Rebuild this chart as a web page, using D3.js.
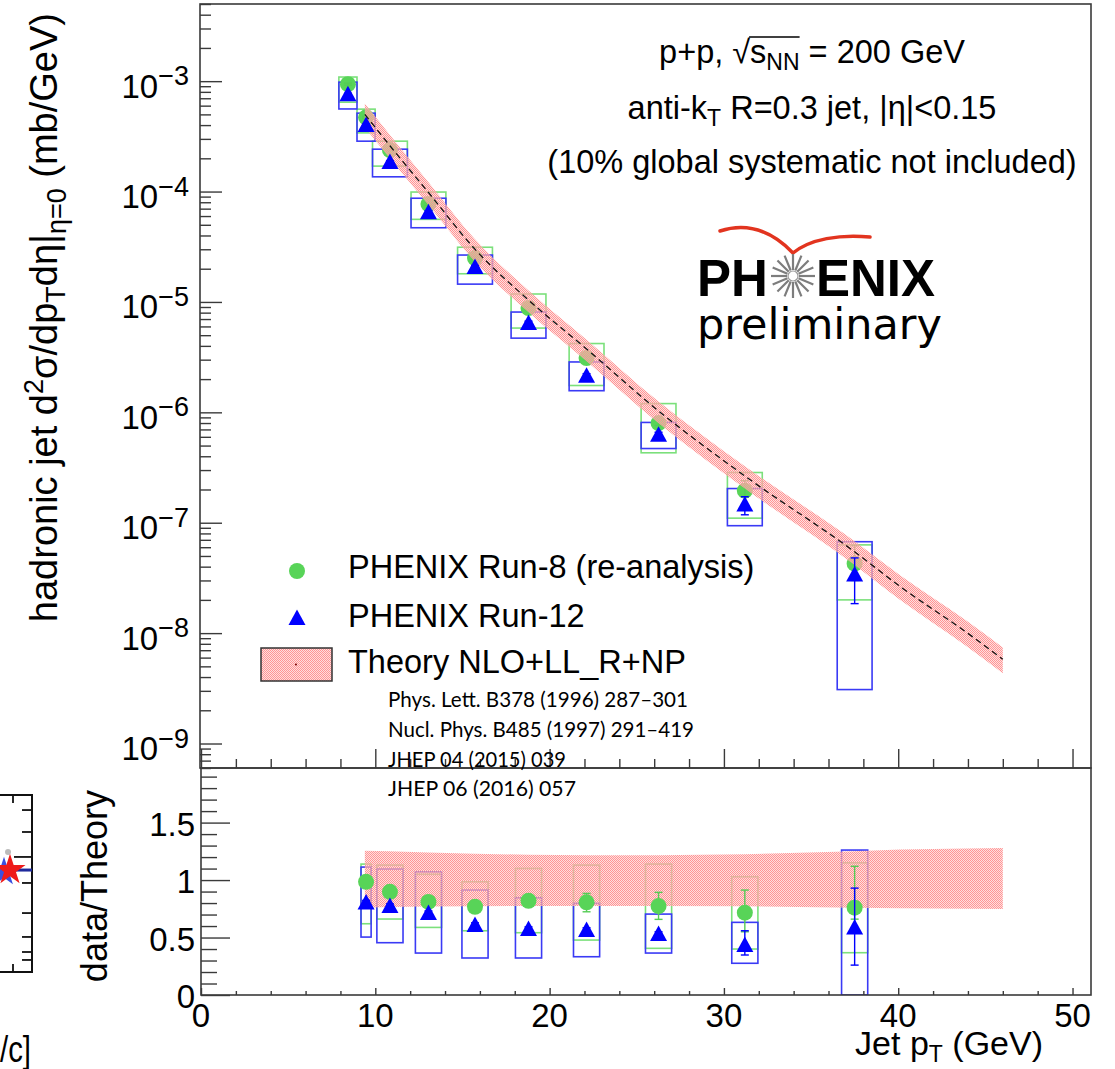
<!DOCTYPE html>
<html>
<head>
<meta charset="utf-8">
<script src="https://cdn.jsdelivr.net/npm/d3@7"></script>
<style>
body { margin: 0; background: #fff; }
svg text { font-family: "Liberation Sans", Arial, sans-serif; fill: #000; }
</style>
</head>
<body>
<svg id="chart" width="1115" height="1069"></svg>
<script>
// ---- data ----
var ptTop = [8.43, 9.47, 10.84, 13.05, 15.72, 18.79, 22.12, 26.25, 31.2, 37.5];
var boxHalfTop = [0.52, 0.52, 1, 1, 1, 1, 1, 1, 1, 1];

var run8Val    = [9.4e-4, 4.7e-4, 2.38e-4, 7.7e-5, 2.5e-5, 8.8e-6, 3.1e-6, 8.0e-7, 1.95e-7, 4.26e-8];
var run8SysLo  = [6.45e-4, 3.4e-4, 1.7e-4, 5.6e-5, 1.8e-5, 5.8e-6, 1.75e-6, 4.3e-7, 1.1e-7, 2.0e-8];
var run8SysHi  = [1.09e-3, 5.58e-4, 2.86e-4, 9.9e-5, 3.13e-5, 1.18e-5, 4.2e-6, 1.2e-6, 2.85e-7, 6.3e-8];
var run8StatLo = [9.2e-4, 4.6e-4, 2.33e-4, 7.5e-5, 2.44e-5, 8.5e-6, 2.98e-6, 7.6e-7, 1.7e-7, 3.0e-8];
var run8StatHi = [9.6e-4, 4.8e-4, 2.43e-4, 7.9e-5, 2.56e-5, 9.1e-6, 3.22e-6, 8.4e-7, 2.4e-7, 6.2e-8];

var run12Val    = [7.6e-4, 4.0e-4, 1.85e-4, 6.5e-5, 2.07e-5, 6.45e-6, 2.14e-6, 6.25e-7, 1.46e-7, 3.39e-8];
var run12SysLo  = [5.6e-4, 2.86e-4, 1.36e-4, 4.7e-5, 1.45e-5, 4.7e-6, 1.57e-6, 4.7e-7, 9.4e-8, 3.08e-9];
var run12SysHi  = [9.8e-4, 5.13e-4, 2.42e-4, 8.7e-5, 2.66e-5, 8.1e-6, 2.86e-6, 8.1e-7, 2.04e-7, 6.73e-8];
var run12StatLo = [7.45e-4, 3.9e-4, 1.8e-4, 6.3e-5, 2.0e-5, 6.2e-6, 2.04e-6, 5.9e-7, 1.18e-7, 1.85e-8];
var run12StatHi = [7.75e-4, 4.1e-4, 1.9e-4, 6.7e-5, 2.14e-5, 6.7e-6, 2.24e-6, 6.6e-7, 1.72e-7, 4.8e-8];

var theoryPt  = [9.4, 10.84, 13.05, 15.72, 18.79, 22.12, 26.25, 31.2, 37.5, 40.1, 43.9, 46.0];
var theoryVal = [5.0e-4, 2.6e-4, 9.8e-5, 3.0e-5, 1.04e-5, 3.75e-6, 1.03e-6, 2.65e-7, 5.45e-8, 2.65e-8, 1.02e-8, 5.8e-9];
var bandHi    = [1.255, 1.25, 1.24, 1.23, 1.22, 1.215, 1.215, 1.225, 1.25, 1.265, 1.275, 1.28];
var bandLo    = [0.76, 0.765, 0.77, 0.772, 0.775, 0.775, 0.775, 0.772, 0.76, 0.755, 0.75, 0.748];

var ptRatio = [9.47, 10.84, 13.05, 15.72, 18.79, 22.12, 26.25, 31.2, 37.5];
var boxHalfRatio = [0.29, 0.75, 0.75, 0.75, 0.75, 0.75, 0.75, 0.75, 0.75];
var ratio8       = [0.985, 0.898, 0.81, 0.768, 0.82, 0.806, 0.774, 0.716, 0.76];
var ratio8SysLo  = [0.62, 0.661, 0.588, 0.559, 0.542, 0.478, 0.406, 0.40, 0.368];
var ratio8SysHi  = [1.139, 1.13, 1.05, 0.985, 1.101, 1.13, 1.139, 1.029, 1.15];
var ratio8StatLo = [0.965, 0.88, 0.79, 0.75, 0.80, 0.724, 0.658, 0.55, 0.66];
var ratio8StatHi = [1.005, 0.916, 0.83, 0.786, 0.84, 0.884, 0.893, 0.913, 1.12];
var ratio12       = [0.804, 0.774, 0.713, 0.609, 0.574, 0.565, 0.53, 0.435, 0.587];
var ratio12SysLo  = [0.504, 0.455, 0.365, 0.322, 0.322, 0.333, 0.365, 0.276, 0];
var ratio12SysHi  = [1.113, 1.096, 1.072, 0.913, 0.846, 0.797, 0.704, 0.632, 1.261];
var ratio12StatLo = [0.785, 0.755, 0.695, 0.59, 0.555, 0.545, 0.51, 0.348, 0.26];
var ratio12StatHi = [0.823, 0.793, 0.731, 0.628, 0.593, 0.585, 0.55, 0.559, 0.93];

var xTickLabels = [0, 10, 20, 30, 40, 50];
var yTopExponents = [-9, -8, -7, -6, -5, -4, -3];
var yBotTicks = [0, 0.5, 1, 1.5];
var yBotLabels = ["0", "0.5", "1", "1.5"];

var legendLabels = ["PHENIX Run-8 (re-analysis)", "PHENIX Run-12", "Theory NLO+LL_R+NP"];
var citations = ["Phys. Lett. B378 (1996) 287\u2013301", "Nucl. Phys. B485 (1997) 291\u2013419",
                 "JHEP 04 (2015) 039", "JHEP 06 (2016) 057"];
var citationWidths = [300, 306, 178, 188];

// cut-off neighbour panel on the left edge (fractions of its height)
var leftTicks = [0.915, 0.791, 0.503, 0.333, 0.198, 0.113, 0.068];
var leftMajor = [0.65];
var leftLineLevel = 0.576;

// ---- layout ----
var frameL = 200, frameR = 1091, topT = 4, topB = 768, botB = 995;
var green = "#58d458", greenBox = "#7be07b", blue = "#0000ff", blueBox = "#3a3af5";
var axisCol = "#3a3a3a";

var x = d3.scaleLinear().domain([0, 51.06]).range([201, 1091]);
var yTop = d3.scaleLog().domain([6e-10, 5e-3]).range([topB, topT]);
var yBot = d3.scaleLinear().domain([0, 1.975]).range([botB, topB]);

var svg = d3.select("#chart");
var defs = svg.append("defs");

// light red checker, like the ROOT hatch of the theory band
var pat = defs.append("pattern").attr("id", "hatch").attr("patternUnits", "userSpaceOnUse")
    .attr("width", 2).attr("height", 2);
pat.append("rect").attr("x", 0).attr("y", 0).attr("width", 1).attr("height", 1).attr("fill", "#ff9595");
pat.append("rect").attr("x", 1).attr("y", 1).attr("width", 1).attr("height", 1).attr("fill", "#ff9595");
pat.append("rect").attr("x", 1).attr("y", 0).attr("width", 1).attr("height", 1).attr("fill", "#ffc4c4").attr("fill-opacity", 0.55);
pat.append("rect").attr("x", 0).attr("y", 1).attr("width", 1).attr("height", 1).attr("fill", "#ffc4c4").attr("fill-opacity", 0.55);

defs.append("clipPath").attr("id", "clipTop").append("rect")
    .attr("x", frameL).attr("y", topT).attr("width", frameR - frameL).attr("height", topB - topT);
defs.append("clipPath").attr("id", "clipBot").append("rect")
    .attr("x", frameL).attr("y", topB).attr("width", frameR - frameL).attr("height", botB - topB);

var triPath = "M0,-8.5L8.5,7L-8.5,7Z";

function drawBoxes(g, pts, half, lo, hi, yS, color) {
    g.selectAll(null).data(pts).enter().append("rect")
        .attr("x", function(d, i) { return x(d - half[i]); })
        .attr("width", function(d, i) { return x(d + half[i]) - x(d - half[i]); })
        .attr("y", function(d, i) { return yS(hi[i]); })
        .attr("height", function(d, i) { return yS(lo[i]) - yS(hi[i]); })
        .attr("fill", "none").attr("stroke", color).attr("stroke-width", 1.6);
}
function drawBars(g, pts, lo, hi, yS, color) {
    var b = g.selectAll(null).data(pts).enter().append("g").attr("stroke", color).attr("stroke-width", 1.4);
    b.append("line").attr("x1", function(d) { return x(d); }).attr("x2", function(d) { return x(d); })
        .attr("y1", function(d, i) { return yS(lo[i]); }).attr("y2", function(d, i) { return yS(hi[i]); });
    b.append("line").attr("x1", function(d) { return x(d) - 4; }).attr("x2", function(d) { return x(d) + 4; })
        .attr("y1", function(d, i) { return yS(lo[i]); }).attr("y2", function(d, i) { return yS(lo[i]); });
    b.append("line").attr("x1", function(d) { return x(d) - 4; }).attr("x2", function(d) { return x(d) + 4; })
        .attr("y1", function(d, i) { return yS(hi[i]); }).attr("y2", function(d, i) { return yS(hi[i]); });
}
function drawCircles(g, pts, vals, yS) {
    g.selectAll(null).data(pts).enter().append("circle")
        .attr("cx", function(d) { return x(d); }).attr("cy", function(d, i) { return yS(vals[i]); })
        .attr("r", 8).attr("fill", green);
}
function drawTriangles(g, pts, vals, yS) {
    g.selectAll(null).data(pts).enter().append("path")
        .attr("d", triPath).attr("fill", blue)
        .attr("transform", function(d, i) { return "translate(" + x(d) + "," + yS(vals[i]) + ")"; });
}
function tickGroup(g, axis) {
    g.call(axis);
    g.select(".domain").remove();
    g.selectAll("text").remove();
    g.selectAll("line").attr("stroke", axisCol).attr("stroke-width", 1.4);
}

// ---- top panel ----
var topG = svg.append("g").attr("clip-path", "url(#clipTop)");
drawBoxes(topG, ptTop, boxHalfTop, run8SysLo, run8SysHi, yTop, greenBox);
drawBoxes(topG, ptTop, boxHalfTop, run12SysLo, run12SysHi, yTop, blueBox);
drawCircles(topG, ptTop, run8Val, yTop);
drawBars(topG, ptTop, run8StatLo, run8StatHi, yTop, "#55cc55");

var bandTop = d3.area()
    .x(function(d) { return x(d); })
    .y0(function(d, i) { return yTop(theoryVal[i] * bandLo[i]); })
    .y1(function(d, i) { return yTop(theoryVal[i] * bandHi[i]); })
    .curve(d3.curveMonotoneX);
topG.append("path").datum(theoryPt).attr("d", bandTop).attr("fill", "url(#hatch)");

drawTriangles(topG, ptTop, run12Val, yTop);
drawBars(topG, ptTop, run12StatLo, run12StatHi, yTop, blue);

var theoryLine = d3.line()
    .x(function(d) { return x(d); })
    .y(function(d, i) { return yTop(theoryVal[i]); })
    .curve(d3.curveMonotoneX);
topG.append("path").datum(theoryPt).attr("d", theoryLine)
    .attr("fill", "none").attr("stroke", "#111").attr("stroke-width", 1.3).attr("stroke-dasharray", "6,4");

// ---- bottom panel ----
var botG = svg.append("g").attr("clip-path", "url(#clipBot)");
drawBoxes(botG, ptRatio, boxHalfRatio, ratio8SysLo, ratio8SysHi, yBot, greenBox);
drawBoxes(botG, ptRatio, boxHalfRatio, ratio12SysLo, ratio12SysHi, yBot, blueBox);
var bandBot = d3.area()
    .x(function(d) { return x(d); })
    .y0(function(d, i) { return yBot(bandLo[i]); })
    .y1(function(d, i) { return yBot(bandHi[i]); });
botG.append("path").datum(theoryPt).attr("d", bandBot).attr("fill", "url(#hatch)");
drawBars(botG, ptRatio, ratio8StatLo, ratio8StatHi, yBot, "#55cc55");
drawCircles(botG, ptRatio, ratio8, yBot);
drawTriangles(botG, ptRatio, ratio12, yBot);
drawBars(botG, ptRatio, ratio12StatLo, ratio12StatHi, yBot, blue);

// ---- frames and ticks ----
svg.append("rect").attr("x", frameL).attr("y", topT).attr("width", frameR - frameL).attr("height", topB - topT)
    .attr("fill", "none").attr("stroke", axisCol).attr("stroke-width", 1.6);
svg.append("rect").attr("x", frameL + 1).attr("y", topB).attr("width", frameR - frameL - 1).attr("height", botB - topB)
    .attr("fill", "none").attr("stroke", axisCol).attr("stroke-width", 1.6);

var decades = yTopExponents.map(function(e) { return Math.pow(10, e); });
var minorsTop = yTop.ticks().filter(function(v) {
    var l = Math.log10(v); return Math.abs(l - Math.round(l)) > 1e-6;
});
tickGroup(svg.append("g").attr("transform", "translate(" + frameL + ",0)"),
    d3.axisRight(yTop).tickValues(decades).tickSize(22));
tickGroup(svg.append("g").attr("transform", "translate(" + frameL + ",0)"),
    d3.axisRight(yTop).tickValues(minorsTop).tickSize(11));

var xMinor = d3.range(0, 51, 2).filter(function(v) { return v % 10 !== 0; });
tickGroup(svg.append("g").attr("transform", "translate(0," + topB + ")"),
    d3.axisTop(x).tickValues(xTickLabels).tickSize(19));
tickGroup(svg.append("g").attr("transform", "translate(0," + topB + ")"),
    d3.axisTop(x).tickValues(xMinor).tickSize(9));
tickGroup(svg.append("g").attr("transform", "translate(0," + botB + ")"),
    d3.axisTop(x).tickValues(xTickLabels).tickSize(7));
tickGroup(svg.append("g").attr("transform", "translate(0," + botB + ")"),
    d3.axisTop(x).tickValues(xMinor).tickSize(4));

var yBotMinor = d3.range(0.1, 1.95, 0.1).filter(function(v) { return Math.abs(v * 2 - Math.round(v * 2)) > 1e-6; });
tickGroup(svg.append("g").attr("transform", "translate(" + (frameL + 1) + ",0)"),
    d3.axisRight(yBot).tickValues(yBotTicks).tickSize(29));
tickGroup(svg.append("g").attr("transform", "translate(" + (frameL + 1) + ",0)"),
    d3.axisRight(yBot).tickValues(yBotMinor).tickSize(16));

// ---- tick labels ----
yTopExponents.forEach(function(e) {
    var t = svg.append("text").attr("x", 189).attr("y", yTop(Math.pow(10, e)) + 16.5)
        .attr("text-anchor", "end").attr("font-size", 33);
    t.append("tspan").text("10");
    t.append("tspan").attr("font-size", 27).attr("dy", -12.5).text("\u2212" + Math.abs(e));
});
yBotTicks.forEach(function(v, i) {
    svg.append("text").attr("x", 195).attr("y", yBot(v) + 13).attr("text-anchor", "end")
        .attr("font-size", 33).text(yBotLabels[i]);
});
xTickLabels.forEach(function(v) {
    svg.append("text").attr("x", x(v)).attr("y", 1027).attr("text-anchor", "middle")
        .attr("font-size", 33).text(v);
});

// ---- axis titles ----
var yt = svg.append("text").attr("transform", "translate(57,13) rotate(-90)")
    .attr("text-anchor", "end").attr("font-size", 38);
yt.append("tspan").text("hadronic jet d");
yt.append("tspan").attr("font-size", 27).attr("dy", -14).text("2");
yt.append("tspan").attr("dy", 14).text("\u03c3/dp");
yt.append("tspan").attr("font-size", 27).attr("dy", 8).text("T");
yt.append("tspan").attr("dy", -8).text("d\u03b7|");
yt.append("tspan").attr("font-size", 27).attr("dy", 9).text("\u03b7=0");
yt.append("tspan").attr("dy", -9).text(" (mb/GeV)");

svg.append("text").attr("transform", "translate(107,790) rotate(-90)")
    .attr("text-anchor", "end").attr("font-size", 36).text("data/Theory");

var xt = svg.append("text").attr("x", 1043).attr("y", 1055).attr("text-anchor", "end").attr("font-size", 34);
xt.append("tspan").text("Jet p");
xt.append("tspan").attr("font-size", 23).attr("dy", 7).text("T");
xt.append("tspan").attr("dy", -7).text(" (GeV)");

// ---- annotation ----
var l1 = svg.append("text").attr("x", 812).attr("y", 63).attr("text-anchor", "middle").attr("font-size", 32.5);
l1.append("tspan").text("p+p, \u221a");
l1.append("tspan").text("s");
l1.append("tspan").attr("font-size", 23).attr("dy", 7).text("NN");
l1.append("tspan").attr("dy", -7).text(" = 200 GeV");
var n1 = l1.node();
var rootExt = n1.getExtentOfChar(5), nnExt = n1.getExtentOfChar(8);
svg.append("line").attr("x1", rootExt.x + rootExt.width - 1).attr("x2", nnExt.x + nnExt.width)
    .attr("y1", 37).attr("y2", 37).attr("stroke", "#000").attr("stroke-width", 1.3);

var l2 = svg.append("text").attr("x", 812).attr("y", 119).attr("text-anchor", "middle").attr("font-size", 32.5);
l2.append("tspan").text("anti-k");
l2.append("tspan").attr("font-size", 23).attr("dy", 7).text("T");
l2.append("tspan").attr("dy", -7).text(" R=0.3 jet, |\u03b7|<0.15");

svg.append("text").attr("x", 812).attr("y", 173).attr("text-anchor", "middle").attr("font-size", 32.5)
    .text("(10% global systematic not included)");

// ---- PHENIX logo ----
var logo = svg.append("g");
logo.append("path").attr("d", "M720,231 C745,223 770,229 793,253 C810,239 840,234 870,237")
    .attr("fill", "none").attr("stroke", "#e2341f").attr("stroke-width", 3.5).attr("stroke-linecap", "round");
logo.append("text").attr("x", 697).attr("y", 296).attr("font-size", 51).attr("font-weight", "bold").text("PH");
logo.append("text").attr("x", 816).attr("y", 296).attr("font-size", 51).attr("font-weight", "bold").text("ENIX");
d3.range(16).forEach(function(k) {
    var a = k * Math.PI / 8;
    logo.append("line").attr("x1", 793 + 6 * Math.cos(a)).attr("y1", 276 + 6 * Math.sin(a))
        .attr("x2", 793 + 22 * Math.cos(a)).attr("y2", 276 + 22 * Math.sin(a))
        .attr("stroke", "#7d7d7d").attr("stroke-width", 2.2);
});
logo.append("circle").attr("cx", 793).attr("cy", 276).attr("r", 5).attr("fill", "#fff").attr("stroke", "#999").attr("stroke-width", 1.2);
logo.append("text").attr("x", 697).attr("y", 339).attr("font-size", 43)
    .style("font-family", "'DejaVu Sans', Verdana, sans-serif").text("preliminary");

// ---- legend ----
var lg = svg.append("g");
lg.append("circle").attr("cx", 297).attr("cy", 571).attr("r", 8).attr("fill", green);
lg.append("path").attr("d", triPath).attr("fill", blue).attr("transform", "translate(297,618)");
lg.append("rect").attr("x", 261).attr("y", 648).attr("width", 71).attr("height", 33)
    .attr("fill", "url(#hatch)").attr("stroke", "#333").attr("stroke-width", 1.5);
lg.append("circle").attr("cx", 296).attr("cy", 664.5).attr("r", 1).attr("fill", "#700");
[578, 627, 673].forEach(function(yy, i) {
    lg.append("text").attr("x", 348).attr("y", yy).attr("font-size", 32.5).text(legendLabels[i]);
});
[707, 737, 767, 796].forEach(function(yy, i) {
    lg.append("text").attr("x", 388).attr("y", yy).attr("font-size", 20.5)
        .attr("textLength", citationWidths[i]).attr("lengthAdjust", "spacingAndGlyphs")
        .style("font-family", "Lato, 'Open Sans', sans-serif").text(citations[i]);
});

// ---- cut-off neighbouring panel at the left edge ----
var leftY = d3.scaleLinear().domain([0, 1]).range([972, 795]);
var lp = svg.append("g");
lp.append("path").attr("d", "M0," + leftY(1) + "H32V" + leftY(0) + "H0")
    .attr("fill", "none").attr("stroke", "#111").attr("stroke-width", 2);
leftTicks.forEach(function(v) {
    lp.append("line").attr("x1", 22).attr("x2", 32).attr("y1", leftY(v)).attr("y2", leftY(v))
        .attr("stroke", "#111").attr("stroke-width", 1.8);
});
leftMajor.forEach(function(v) {
    lp.append("line").attr("x1", 14).attr("x2", 32).attr("y1", leftY(v)).attr("y2", leftY(v))
        .attr("stroke", "#111").attr("stroke-width", 1.8);
});
lp.append("line").attr("x1", 13).attr("x2", 13).attr("y1", leftY(1)).attr("y2", leftY(1) + 8).attr("stroke", "#111").attr("stroke-width", 1.8);
lp.append("line").attr("x1", 13).attr("x2", 13).attr("y1", leftY(0)).attr("y2", leftY(0) - 8).attr("stroke", "#111").attr("stroke-width", 1.8);
lp.append("line").attr("x1", 0).attr("x2", 32).attr("y1", leftY(leftLineLevel)).attr("y2", leftY(leftLineLevel))
    .attr("stroke", "#1e2a9c").attr("stroke-width", 3);
lp.append("circle").attr("cx", 8).attr("cy", leftY(0.678)).attr("r", 3).attr("fill", "#bbb");
var starBlue = d3.symbol().type(d3.symbolStar).size(260);
lp.append("path").attr("d", starBlue()).attr("fill", "#3a4fe0")
    .attr("transform", "translate(4," + (leftY(leftLineLevel) + 2) + ")");
lp.append("path").attr("d", d3.symbol().type(d3.symbolStar).size(300)()).attr("fill", "#ee1a1a")
    .attr("transform", "translate(10," + leftY(leftLineLevel) + ")");
svg.append("text").attr("x", 0).attr("y", 1062).attr("font-size", 36)
    .attr("textLength", 31).attr("lengthAdjust", "spacingAndGlyphs")
    .attr("fill", "#1a1a1a").text("/c]");
</script>
</body>
</html>
